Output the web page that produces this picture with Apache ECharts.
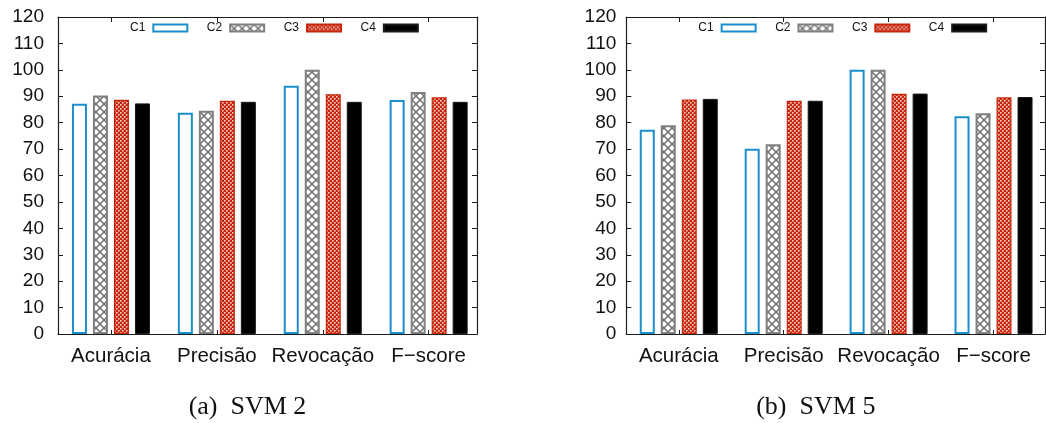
<!DOCTYPE html>
<html>
<head>
<meta charset="utf-8">
<script src="https://cdn.jsdelivr.net/npm/echarts@6/dist/echarts.min.js"></script>
<style>
  html, body { margin: 0; padding: 0; background: #fff; }
  #chart { width: 1046px; height: 423px; }
</style>
</head>
<body>
<div id="chart"></div>
<script>
// Metric categories and tick values shared by both panels
const categories = ['Acurácia', 'Precisão', 'Revocação', 'F\u2212score'];
const seriesNames = ['C1', 'C2', 'C3', 'C4'];
const yTicks = { min: 0, max: 120, interval: 10 };

// Panel (a): SVM 2
const svm2C1 = [87.2, 83.8, 94.0, 88.6];
const svm2C2 = [90.3, 84.5, 100.0, 91.6];
const svm2C3 = [88.7, 88.3, 90.8, 89.6];
const svm2C4 = [87.3, 87.9, 87.9, 87.9];

// Panel (b): SVM 5
const svm5C1 = [77.3, 70.1, 100.0, 82.4];
const svm5C2 = [79.0, 71.8, 100.0, 83.6];
const svm5C3 = [88.8, 88.3, 90.9, 89.6];
const svm5C4 = [89.0, 88.3, 91.0, 89.7];

const captions = ['(a)\u2002SVM 2', '(b)\u2002SVM 5'];

const SANS = "'Liberation Sans', Arial, Helvetica, sans-serif";
const SERIF = "'Liberation Serif', 'Times New Roman', serif";

// Fill patterns
function crossHatch() {
  const c = document.createElement('canvas');
  c.width = 8; c.height = 8;
  const g = c.getContext('2d');
  g.fillStyle = '#ffffff'; g.fillRect(0, 0, 8, 8);
  g.strokeStyle = '#707070'; g.lineWidth = 1.5;
  g.beginPath();
  g.moveTo(0, 0); g.lineTo(8, 8);
  g.moveTo(8, 0); g.lineTo(0, 8);
  g.stroke();
  return c;
}
function redChecker() {
  const c = document.createElement('canvas');
  c.width = 4; c.height = 4;
  const g = c.getContext('2d');
  g.fillStyle = '#c8250d'; g.fillRect(0, 0, 4, 4);
  g.fillStyle = '#f6d8d2';
  g.fillRect(0, 0, 1.6, 1.6);
  g.fillRect(2, 2, 1.6, 1.6);
  return c;
}
const hatchImg = crossHatch();
const checkImg = redChecker();

const styles = [
  { color: '#ffffff', borderColor: '#1a8fcb', borderWidth: 2 },
  { color: { image: hatchImg, repeat: 'repeat' }, borderColor: '#808080', borderWidth: 2 },
  { color: { image: checkImg, repeat: 'repeat' }, borderColor: '#c8250d', borderWidth: 1.2 },
  { color: '#000000', borderColor: '#1a1a1a', borderWidth: 1 }
];

// Panel geometry
const panels = [
  { left: 58, bandWidth: 423.6, frameWidth: 419, labelMargin: 14, legendLeft: 130,
    data: [svm2C1, svm2C2, svm2C3, svm2C4], caption: captions[0], captionX: 247.5 },
  { left: 626.3, bandWidth: 424.4, frameWidth: 418.7, labelMargin: 10, legendLeft: 698.3,
    data: [svm5C1, svm5C2, svm5C3, svm5C4], caption: captions[1], captionX: 815.8 }
];
const TOP = 17, HEIGHT = 317;
const LINE = '#1e1e1e';

const grid = [], xAxis = [], yAxis = [], series = [], legend = [], graphic = [];

panels.forEach((p, k) => {
  const gBars = grid.length;
  grid.push({ left: p.left, top: TOP, width: p.bandWidth, height: HEIGHT });
  const gFrame = grid.length;
  grid.push({ left: p.left, top: TOP, width: p.frameWidth, height: HEIGHT });

  // category axis carrying the bars (bottom labels and ticks)
  const xCat = xAxis.length;
  xAxis.push({
    type: 'category', gridIndex: gBars, data: categories, position: 'bottom',
    axisLine: { show: false },
    axisTick: { show: true, inside: true, alignWithLabel: true, interval: 0, length: 4, lineStyle: { color: LINE } },
    axisLabel: { interval: 0, fontFamily: SANS, fontSize: 20.5, color: '#111', margin: 12 },
    splitLine: { show: false }
  });
  // mirrored category ticks on the top edge
  xAxis.push({
    type: 'category', gridIndex: gBars, data: categories, position: 'top',
    axisLine: { show: false },
    axisTick: { show: true, inside: true, alignWithLabel: true, interval: 0, length: 5, lineStyle: { color: LINE } },
    axisLabel: { show: false }, splitLine: { show: false }
  });
  const yBars = yAxis.length;
  yAxis.push({ type: 'value', gridIndex: gBars, min: yTicks.min, max: yTicks.max, interval: yTicks.interval, show: false });

  // frame: bottom/top border lines
  xAxis.push({
    type: 'value', gridIndex: gFrame, position: 'bottom', min: 0, max: 1,
    axisLine: { show: true, onZero: false, lineStyle: { color: LINE, width: 1.2 } },
    axisTick: { show: false }, axisLabel: { show: false }, splitLine: { show: false }
  });
  xAxis.push({
    type: 'value', gridIndex: gFrame, position: 'top', min: 0, max: 1,
    axisLine: { show: true, onZero: false, lineStyle: { color: LINE, width: 1.2 } },
    axisTick: { show: false }, axisLabel: { show: false }, splitLine: { show: false }
  });
  // frame: left axis with labels, right mirrored ticks
  yAxis.push({
    type: 'value', gridIndex: gFrame, position: 'left',
    min: yTicks.min, max: yTicks.max, interval: yTicks.interval,
    axisLine: { show: true, onZero: false, lineStyle: { color: LINE, width: 1.2 } },
    axisTick: { show: true, inside: true, length: 5, lineStyle: { color: LINE } },
    axisLabel: { fontFamily: SANS, fontSize: 19, color: '#111', margin: p.labelMargin },
    splitLine: { show: false }
  });
  yAxis.push({
    type: 'value', gridIndex: gFrame, position: 'right',
    min: yTicks.min, max: yTicks.max, interval: yTicks.interval,
    axisLine: { show: true, onZero: false, lineStyle: { color: LINE, width: 1.2 } },
    axisTick: { show: true, inside: true, length: 5, lineStyle: { color: LINE } },
    axisLabel: { show: false }, splitLine: { show: false }
  });

  seriesNames.forEach((name, i) => {
    series.push({
      type: 'bar', name: name, xAxisIndex: xCat, yAxisIndex: yBars,
      data: p.data[i], barWidth: 15, barGap: '40%',
      itemStyle: styles[i], silent: true, animation: false
    });
  });

  legend.push({
    data: seriesNames.map(n => ({ name: n, icon: 'rect' })),
    left: p.legendLeft, top: 22, padding: 0,
    align: 'right', orient: 'horizontal',
    itemWidth: 34, itemHeight: 7, itemGap: 18.5,
    textStyle: { fontFamily: SANS, fontSize: 12, color: '#111', padding: [0, 3, 0, 0] },
    selectedMode: false
  });

  graphic.push({
    type: 'text', x: p.captionX, y: 407,
    style: { text: p.caption, fontFamily: SERIF, fontSize: 26, fill: '#111',
             textAlign: 'center', textVerticalAlign: 'middle' }
  });
});

const chart = echarts.init(document.getElementById('chart'), null, { renderer: 'canvas' });
chart.setOption({
  animation: false,
  backgroundColor: '#ffffff',
  grid, xAxis, yAxis, series, legend, graphic
});
</script>
</body>
</html>
